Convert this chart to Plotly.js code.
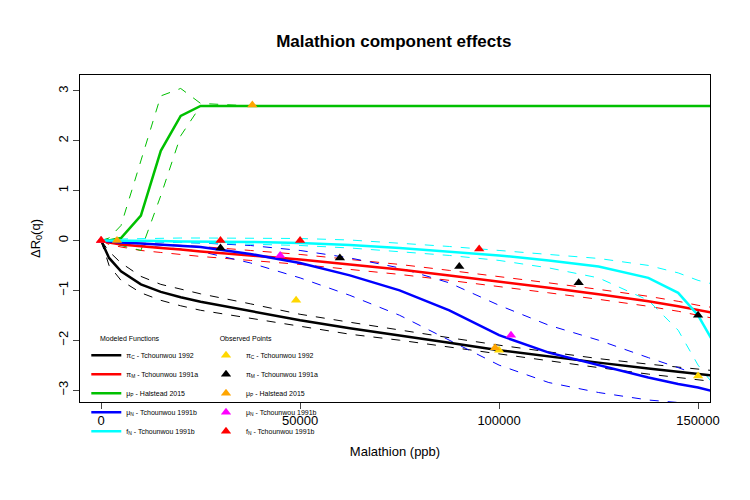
<!DOCTYPE html>
<html>
<head>
<script src="https://cdn.plot.ly/plotly-3.0.1.min.js"></script>
</head>
<body style="margin:0">
<div id="plot" style="width:750px;height:500px"></div>
<script>
// Malathion component effects: modeled curves with dashed bands + observed points
var xs = [0, 2000, 5000, 10000, 15000, 20000, 25000, 37500, 50000, 62500, 75000, 87500, 100000, 112500, 125000, 137500, 145000, 150000, 155000];

var piC = [0, -0.35, -0.62, -0.88, -1.03, -1.14, -1.23, -1.42, -1.6, -1.76, -1.9, -2.05, -2.2, -2.33, -2.45, -2.57, -2.63, -2.68, -2.72];
var piC_lo = [0, -0.5, -0.8, -1.05, -1.2, -1.31, -1.4, -1.56, -1.72, -1.88, -2.0, -2.14, -2.28, -2.42, -2.55, -2.68, -2.75, -2.8, -2.84];
var piC_hi = [0, -0.22, -0.45, -0.72, -0.88, -0.98, -1.07, -1.27, -1.48, -1.64, -1.8, -1.95, -2.1, -2.24, -2.37, -2.48, -2.54, -2.58, -2.62];

var piM = [0, -0.04, -0.08, -0.12, -0.15, -0.18, -0.22, -0.3, -0.38, -0.48, -0.58, -0.7, -0.82, -0.95, -1.08, -1.22, -1.32, -1.4, -1.47];
var piM_lo = [0, -0.08, -0.13, -0.2, -0.24, -0.28, -0.32, -0.4, -0.48, -0.58, -0.68, -0.8, -0.92, -1.05, -1.18, -1.32, -1.42, -1.5, -1.58];
var piM_hi = [0, 0, -0.03, -0.05, -0.07, -0.09, -0.12, -0.2, -0.28, -0.38, -0.48, -0.6, -0.72, -0.85, -0.98, -1.12, -1.22, -1.3, -1.36];

var muP = [0, 0, 0.05, 0.5, 1.8, 2.5, 2.7, 2.7, 2.7, 2.7, 2.7, 2.7, 2.7, 2.7, 2.7, 2.7, 2.7, 2.7, 2.7];
var muP_lo = [0, -0.05, -0.1, -0.2, 0.9, 2.1, 2.7, 2.7, 2.7, 2.7, 2.7, 2.7, 2.7, 2.7, 2.7, 2.7, 2.7, 2.7, 2.7];
var muP_hi = [0, 0.05, 0.3, 1.6, 2.9, 3.05, 2.75, 2.7, 2.7, 2.7, 2.7, 2.7, 2.7, 2.7, 2.7, 2.7, 2.7, 2.7, 2.7];

var muN = [0, -0.02, -0.04, -0.06, -0.08, -0.1, -0.13, -0.27, -0.45, -0.7, -1.0, -1.4, -1.9, -2.25, -2.5, -2.75, -2.88, -2.95, -3.05];
var muN_lo = [0, -0.04, -0.07, -0.1, -0.13, -0.17, -0.22, -0.45, -0.75, -1.1, -1.5, -2.0, -2.5, -2.85, -3.05, -3.2, -3.25, -3.3, -3.3];
var muN_hi = [0, 0, -0.01, -0.02, -0.03, -0.04, -0.05, -0.1, -0.2, -0.35, -0.55, -0.85, -1.3, -1.7, -2.0, -2.35, -2.55, -2.7, -2.8];

var fN = [0, 0, 0, -0.01, -0.01, -0.02, -0.02, -0.03, -0.05, -0.09, -0.15, -0.22, -0.3, -0.4, -0.52, -0.75, -1.05, -1.5, -2.2];
var fN_lo = [0, 0, -0.01, -0.02, -0.03, -0.04, -0.05, -0.07, -0.1, -0.15, -0.22, -0.3, -0.4, -0.55, -0.75, -1.2, -1.8, -2.5, -3.0];
var fN_hi = [0, 0.02, 0.03, 0.04, 0.05, 0.05, 0.05, 0.05, 0.04, 0.01, -0.05, -0.12, -0.2, -0.28, -0.36, -0.5, -0.65, -0.8, -0.9];

// observed points
var obsC_x = [0, 49000, 100000, 150000], obsC_y = [0, -1.2, -2.2, -2.72];
var obsM_x = [30000, 60000, 90000, 120000, 150000], obsM_y = [-0.15, -0.35, -0.52, -0.85, -1.5];
var obsP_x = [0, 4000, 38000, 99000], obsP_y = [0, 0, 2.72, -2.15];
var obsN_x = [0, 45000, 103000], obsN_y = [0, -0.3, -1.9];
var obsF_x = [0, 30000, 50000, 95000], obsF_y = [0, 0, 0, -0.17];

var xTicks = [0, 50000, 100000, 150000];
var xTickText = ['0', '50000', '100000', '150000'];

var names = ['π<sub>C</sub> - Tchounwou 1992', 'π<sub>M</sub> - Tchounwou 1991a', 'μ<sub>P</sub> - Halstead 2015', 'μ<sub>N</sub> - Tchounwou 1991b', 'f<sub>N</sub> - Tchounwou 1991b'];
var curveCols = ['black', 'red', '#00c000', 'blue', 'cyan'];
var curves = [[piC, piC_lo, piC_hi], [piM, piM_lo, piM_hi], [muP, muP_lo, muP_hi], [muN, muN_lo, muN_hi], [fN, fN_lo, fN_hi]];

var data = [];
curves.forEach(function (c, i) {
  [1, 2].forEach(function (k) {
    data.push({x: xs, y: c[k], type: 'scatter', mode: 'lines', showlegend: false,
      line: {color: curveCols[i], width: 1, dash: 'dash'}, hoverinfo: 'skip'});
  });
});
curves.forEach(function (c, i) {
  data.push({x: xs, y: c[0], type: 'scatter', mode: 'lines', name: names[i],
    line: {color: curveCols[i], width: 2.5}});
});

var obs = [[obsC_x, obsC_y, 'gold'], [obsM_x, obsM_y, 'black'], [obsP_x, obsP_y, 'orange'], [obsN_x, obsN_y, 'magenta'], [obsF_x, obsF_y, 'red']];
obs.forEach(function (o, i) {
  data.push({x: o[0], y: o[1], type: 'scatter', mode: 'markers', name: names[i], legend: 'legend2',
    marker: {symbol: 'triangle-up', size: 9, color: o[2]}});
});

var layout = {
  width: 750, height: 500,
  margin: {l: 80, r: 40, t: 75, b: 98},
  paper_bgcolor: 'white', plot_bgcolor: 'white',
  font: {family: 'Liberation Sans, Arial, sans-serif', color: 'black'},
  title: {text: '<b>Malathion component effects</b>', font: {size: 17}, x: 0.525, y: 0.93},
  xaxis: {
    range: [-5300, 153000], tickvals: xTicks, ticktext: xTickText, ticks: 'outside', ticklen: 6,
    showgrid: false, zeroline: false, showline: true, mirror: true, linecolor: 'black',
    tickfont: {size: 13},
    title: {text: 'Malathion (ppb)', font: {size: 13}, standoff: 20}
  },
  yaxis: {
    range: [-3.24, 3.32], tickvals: [-3, -2, -1, 0, 1, 2, 3], ticks: 'outside', ticklen: 6, tickangle: -90,
    showgrid: false, zeroline: false, showline: true, mirror: true, linecolor: 'black',
    tickfont: {size: 13},
    title: {text: 'ΔR<sub>0</sub>(q)', font: {size: 13}, standoff: 12}
  },
  legend: {x: 0.01, y: 0.215, yanchor: 'top', bgcolor: 'rgba(0,0,0,0)', font: {size: 7},
    title: {text: '      Modeled Functions', font: {size: 7}}, tracegroupgap: 0, itemwidth: 30},
  legend2: {x: 0.2, y: 0.215, yanchor: 'top', bgcolor: 'rgba(0,0,0,0)', font: {size: 7},
    title: {text: '      Observed Points', font: {size: 7}}, tracegroupgap: 0, itemwidth: 30}
};

Plotly.newPlot('plot', data, layout, {displayModeBar: false});
</script>
</body>
</html>
